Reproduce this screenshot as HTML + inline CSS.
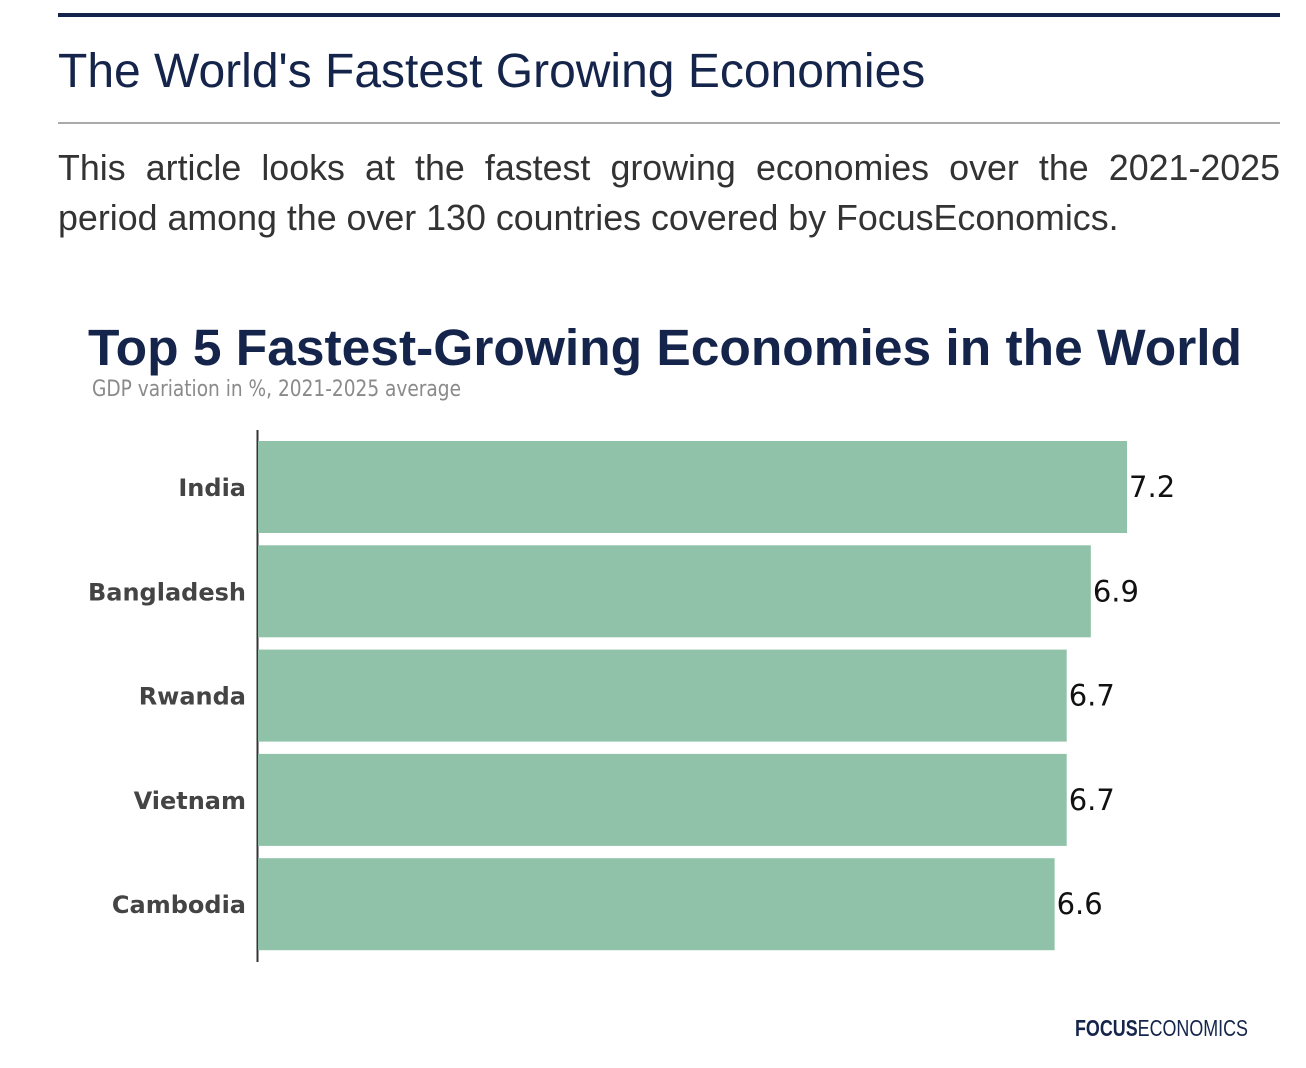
<!DOCTYPE html>
<html><head><meta charset="utf-8"><style>
html,body{margin:0;padding:0;background:#fff;width:1306px;height:1068px;overflow:hidden}
.wrap{position:absolute;left:58px;top:0;width:1222px;font-family:"Liberation Sans",sans-serif}
.topbar{position:absolute;left:0;top:13px;width:1222px;height:4px;background:#14244a}
h1{position:absolute;left:0;top:44px;margin:0;font-weight:normal;font-size:48px;color:#14244a;white-space:nowrap}
.rule{position:absolute;left:0;top:122px;width:1222px;height:2px;background:#aaa}
p{position:absolute;left:0;top:143px;margin:0;width:1222px;font-size:35.8px;line-height:50px;color:#333;white-space:nowrap}
p span{display:block;text-align:justify;text-align-last:justify}
svg{position:absolute;left:0;top:0}
</style></head><body>
<div class="wrap">
<div class="topbar"></div>
<h1>The World's Fastest Growing Economies</h1>
<div class="rule"></div>
<p><span>This article looks at the fastest growing economies over the 2021-2025</span>period among the over 130 countries covered by FocusEconomics.</p>
</div>
<svg id="chart" width="1306" height="1068">
<text x="88" y="365" font-family="'Liberation Sans',sans-serif" font-weight="bold" font-size="51" fill="#14244a" textLength="1154" lengthAdjust="spacingAndGlyphs">Top 5  Fastest-Growing Economies in the World</text>
<text x="92" y="396" font-family="'DejaVu Sans',sans-serif" font-size="22" fill="#8a8a8a" textLength="369" lengthAdjust="spacingAndGlyphs">GDP variation in %, 2021-2025 average</text>
<line x1="257.5" y1="430" x2="257.5" y2="962" stroke="#333" stroke-width="2"/>
<g id="bars"></g>
<text x="1075" y="1036" font-family="'Liberation Sans',sans-serif" font-size="23" fill="#14244a" textLength="173" lengthAdjust="spacingAndGlyphs"><tspan font-weight="bold">FOCUS</tspan>ECONOMICS</text>
</svg>
<script>
const categories=["India","Bangladesh","Rwanda","Vietnam","Cambodia"];
const values=[7.2,6.9,6.7,6.7,6.6];
const valueLabels=["7.2","6.9","6.7","6.7","6.6"];
const NS="http://www.w3.org/2000/svg";
const x0=258, pxPerUnit=120.7, y0=441, step=104.3, bh=92;
const xs=v=>x0+v*pxPerUnit;
const g=document.getElementById('bars');
categories.forEach((c,i)=>{
  const y=y0+i*step;
  const r=document.createElementNS(NS,'rect');
  r.setAttribute('x',x0);r.setAttribute('y',y);r.setAttribute('width',xs(values[i])-x0);r.setAttribute('height',bh);r.setAttribute('fill','#8fc2a8');
  
  
  g.appendChild(r);
  const l=document.createElementNS(NS,'text');
  l.setAttribute('x',246);l.setAttribute('y',y+bh/2+9);l.setAttribute('text-anchor','end');
  l.setAttribute('font-family',"'DejaVu Sans',sans-serif");l.setAttribute('font-size','24');l.setAttribute('font-weight','bold');l.setAttribute('fill','#444');
  l.textContent=c;
  
  
  g.appendChild(l);
  const v=document.createElementNS(NS,'text');
  v.setAttribute('x',xs(values[i])+2);v.setAttribute('y',y+bh/2+10);
  v.setAttribute('font-family',"'DejaVu Sans',sans-serif");v.setAttribute('font-size','29');v.setAttribute('fill','#111');
  v.textContent=valueLabels[i];
  
  
  g.appendChild(v);
});
</script>
</body></html>
